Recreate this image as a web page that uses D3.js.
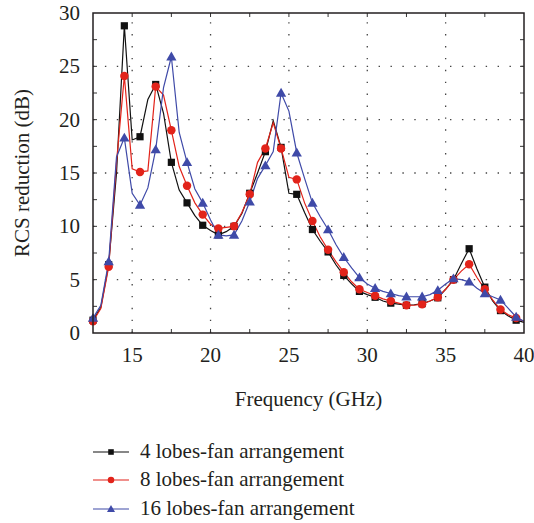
<!DOCTYPE html>
<html>
<head>
<meta charset="utf-8">
<script src="https://cdn.jsdelivr.net/npm/d3@7"></script>
<style>
  body { margin: 0; background: #fff; }
  text { font-family: "Liberation Serif", "DejaVu Serif", serif; fill: #231f20; }
</style>
</head>
<body>
<div id="chart"></div>
<script>
// frequency samples (GHz), markers drawn every second sample
var freq = [12.5,13,13.5,14,14.5,15,15.5,16,16.5,17,17.5,18,18.5,19,19.5,20,20.5,21,21.5,22,
  22.5,23,23.5,24,24.5,25,25.5,26,26.5,27,27.5,28,28.5,29,29.5,30,30.5,31,31.5,32,
  32.5,33,33.5,34,34.5,35,35.5,36,36.5,37,37.5,38,38.5,39,39.5,40];

var lobes4 = [1.2,2.4,6.4,15.0,28.8,18.1,18.4,21.9,23.3,20.6,16.0,13.4,12.2,11.0,10.1,9.6,9.2,9.5,10.0,11.2,
  13.1,15.0,17.0,19.9,17.4,13.1,13.0,11.3,9.7,8.6,7.6,6.4,5.4,4.6,3.9,3.6,3.35,3.0,2.8,2.7,
  2.6,2.65,2.75,3.0,3.3,4.1,5.0,6.5,7.9,6.0,4.3,3.0,2.1,1.6,1.2,1.0];

var lobes8 = [1.1,2.3,6.2,16.0,24.1,15.4,15.1,15.2,23.1,22.3,19.0,15.6,13.8,12.2,11.1,10.2,9.8,9.9,10.0,11.3,
  13.0,16.0,17.3,19.7,17.3,14.6,14.4,12.2,10.5,9.0,7.8,6.7,5.7,4.8,4.1,3.8,3.5,3.2,3.0,2.8,
  2.6,2.6,2.7,3.0,3.35,4.1,5.0,5.8,6.45,5.2,4.1,3.1,2.2,1.7,1.4,1.1];

var lobes16 = [1.4,2.6,6.7,16.5,18.3,13.1,12.0,13.6,17.2,23.0,25.9,18.8,16.0,13.5,12.2,10.6,9.2,9.1,9.2,10.5,
  12.3,14.5,15.7,17.0,22.5,20.8,16.9,14.5,12.2,10.9,9.7,8.3,7.1,6.1,5.2,4.6,4.2,3.9,3.7,3.5,
  3.4,3.4,3.4,3.6,4.0,4.6,5.1,5.0,4.8,4.2,3.7,3.4,3.1,2.3,1.5,1.1];

var seriesNames = ["4 lobes-fan arrangement", "8 lobes-fan arrangement", "16 lobes-fan arrangement"];
var xTicks = [15, 20, 25, 30, 35, 40];
var yTicks = [0, 5, 10, 15, 20, 25, 30];

var width = 534, height = 523;
var pLeft = 93, pRight = 524, pTop = 13, pBottom = 333;

var svg = d3.select("#chart").append("svg")
  .attr("width", width)
  .attr("height", height);

var x = d3.scaleLinear().domain([12.5, 40]).range([pLeft, pRight]);
var y = d3.scaleLinear().domain([0, 30]).range([pBottom, pTop]);

// dotted grid
var grid = svg.append("g").attr("stroke", "#444").attr("stroke-width", 1.3)
  .attr("stroke-dasharray", "1.4,10.5").attr("fill", "none");
grid.selectAll(".gx").data([15, 20, 25, 30, 35]).join("line")
  .attr("x1", d => x(d)).attr("x2", d => x(d))
  .attr("y1", pBottom).attr("y2", pTop);
grid.selectAll(".gy").data([5, 10, 15, 20, 25]).join("line")
  .attr("y1", d => y(d)).attr("y2", d => y(d))
  .attr("x1", pLeft).attr("x2", pRight);

// minor ticks inside the frame
var minorX = d3.range(15, 40, 2.5);
var minorY = d3.range(2.5, 30, 2.5);
var ticks = svg.append("g").attr("stroke", "#333").attr("stroke-width", 1);
ticks.selectAll(".tb").data(minorX).join("line")
  .attr("x1", d => x(d)).attr("x2", d => x(d)).attr("y1", pBottom).attr("y2", pBottom - 4);
ticks.selectAll(".tt").data(minorX).join("line")
  .attr("x1", d => x(d)).attr("x2", d => x(d)).attr("y1", pTop).attr("y2", pTop + 4);
ticks.selectAll(".tl").data(minorY).join("line")
  .attr("y1", d => y(d)).attr("y2", d => y(d)).attr("x1", pLeft).attr("x2", pLeft + 4);
ticks.selectAll(".tr").data(minorY).join("line")
  .attr("y1", d => y(d)).attr("y2", d => y(d)).attr("x1", pRight).attr("x2", pRight - 4);

// series
var colors = ["#111111", "#e2231a", "#3f4aa8"];
var symbols = [d3.symbolSquare, d3.symbolCircle, d3.symbolTriangle];
var sizes = [52, 56, 46];
var allSeries = [lobes4, lobes8, lobes16];

var line = d3.line()
  .x((d, i) => x(freq[i]))
  .y(d => y(d));

var plot = svg.append("g");
allSeries.forEach(function (vals, s) {
  plot.append("path")
    .datum(vals)
    .attr("d", line)
    .attr("fill", "none")
    .attr("stroke", colors[s])
    .attr("stroke-width", 1.2);
});
allSeries.forEach(function (vals, s) {
  plot.selectAll(".m" + s)
    .data(vals.map((v, i) => [freq[i], v]).filter((d, i) => i % 2 === 0))
    .join("path")
    .attr("class", "m" + s)
    .attr("transform", d => `translate(${x(d[0])},${y(d[1]) + (s === 2 ? 0.8 : 0)})`)
    .attr("d", d3.symbol().type(symbols[s]).size(sizes[s]))
    .attr("fill", colors[s]);
});

// frame
svg.append("rect")
  .attr("x", pLeft).attr("y", pTop)
  .attr("width", pRight - pLeft).attr("height", pBottom - pTop)
  .attr("fill", "none").attr("stroke", "#231f20").attr("stroke-width", 1.5);

// tick labels
svg.selectAll(".xl").data(xTicks).join("text")
  .attr("x", d => x(d)).attr("y", pBottom + 29)
  .attr("text-anchor", "middle").style("font-size", "21px")
  .text(d => d);
svg.selectAll(".yl").data(yTicks).join("text")
  .attr("x", pLeft - 13).attr("y", d => y(d) + 7)
  .attr("text-anchor", "end").style("font-size", "21px")
  .text(d => d);

// axis titles
svg.append("text")
  .attr("x", (pLeft + pRight) / 2).attr("y", 406)
  .attr("text-anchor", "middle").style("font-size", "21px")
  .text("Frequency (GHz)");
svg.append("text")
  .attr("transform", `translate(29,${(pTop + pBottom) / 2}) rotate(-90)`)
  .attr("text-anchor", "middle").style("font-size", "21px")
  .text("RCS reduction (dB)");

// legend
var legend = svg.append("g");
var legendY = [452, 480, 509];
seriesNames.forEach(function (name, s) {
  legend.append("line")
    .attr("x1", 93).attr("x2", 129)
    .attr("y1", legendY[s]).attr("y2", legendY[s])
    .attr("stroke", colors[s]).attr("stroke-width", 1.2);
  legend.append("path")
    .attr("transform", `translate(111,${legendY[s] + (s === 2 ? 0.6 : 0)})`)
    .attr("d", d3.symbol().type(symbols[s]).size(sizes[s] * 0.6))
    .attr("fill", colors[s]);
  legend.append("text")
    .attr("x", 140).attr("y", legendY[s] + 6)
    .style("font-size", "21px")
    .text(name);
});
</script>
</body>
</html>
